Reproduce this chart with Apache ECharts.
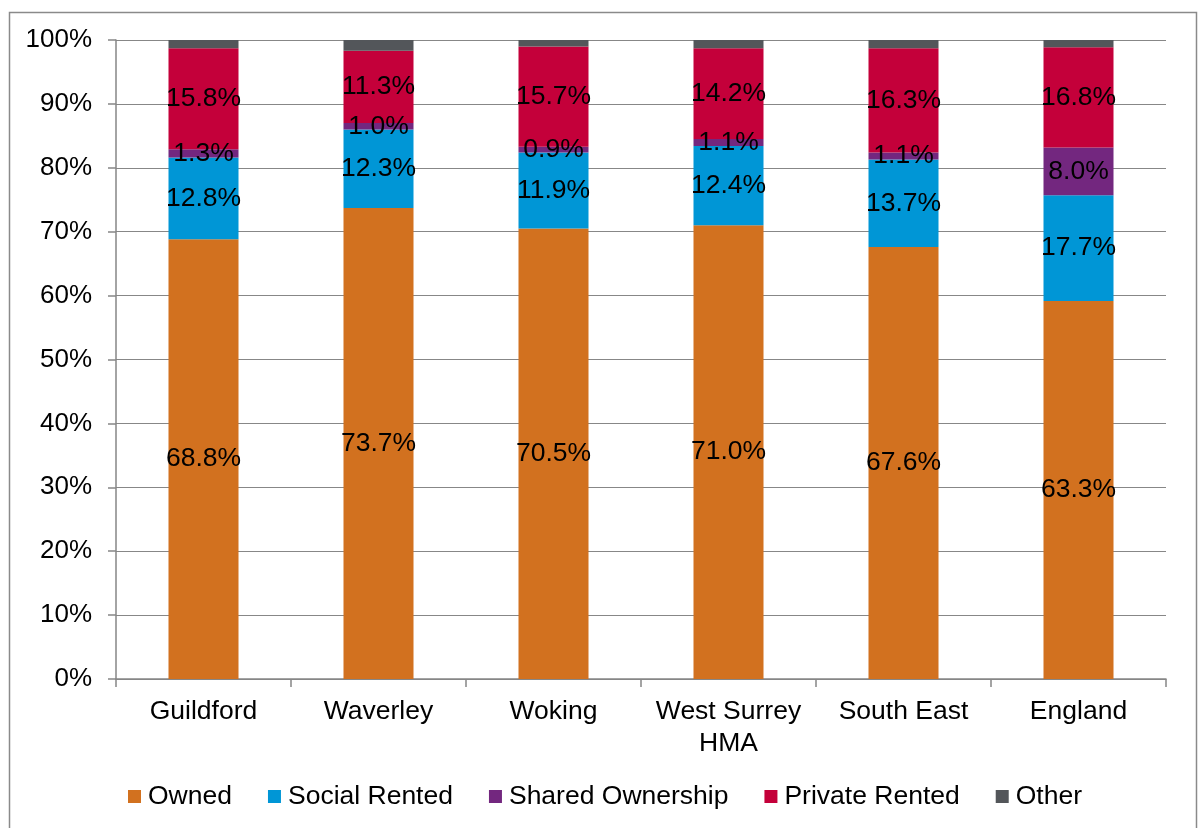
<!DOCTYPE html>
<html>
<head>
<meta charset="utf-8">
<script src="https://cdn.jsdelivr.net/npm/echarts@6/dist/echarts.min.js"></script>
<style>
  html, body { margin: 0; padding: 0; background: #fff; }
  #chart { width: 1199px; height: 828px; }
</style>
</head>
<body>
<div id="chart"></div>
<script>
// Housing tenure by area (percent of households)
const categories = ['Guildford', 'Waverley', 'Woking', 'West Surrey\nHMA', 'South East', 'England'];
const owned         = [68.8, 73.7, 70.5, 71.0, 67.6, 63.3];
const socialRented  = [12.8, 12.3, 11.9, 12.4, 13.7, 17.7];
const sharedOwner   = [1.3, 1.0, 0.9, 1.1, 1.1, 8.0];
const privateRented = [15.8, 11.3, 15.7, 14.2, 16.3, 16.8];
const other         = [1.3, 1.7, 1.0, 1.3, 1.3, 1.2];
const yTicks = [0, 10, 20, 30, 40, 50, 60, 70, 80, 90, 100];

const seriesDefs = [
  { name: 'Owned', data: owned, color: '#D2711F', label: true },
  { name: 'Social Rented', data: socialRented, color: '#0096D6', label: true },
  { name: 'Shared Ownership', data: sharedOwner, color: '#73277F', label: true },
  { name: 'Private Rented', data: privateRented, color: '#C4003A', label: true },
  { name: 'Other', data: other, color: '#53565A', label: false }
];

// 100% stacked: each column is scaled to its own total
const totals = categories.map((_, i) => seriesDefs.reduce((s, d) => s + d.data[i], 0));

const FONT = 'Liberation Sans, Arial, sans-serif';

const chart = echarts.init(document.getElementById('chart'));
chart.setOption({
  animation: false,
  textStyle: { fontFamily: FONT },
  graphic: [{
    type: 'rect',
    left: 7, top: 10,
    shape: { width: 1187, height: 840 },
    style: { fill: 'none', stroke: '#8a8a8a', lineWidth: 1.5 },
    silent: true, z: -1
  }],
  grid: { left: 116, right: 33, top: 40, bottom: 149 },
  legend: {
    left: 123, top: 778,
    icon: 'rect', itemWidth: 13, itemHeight: 13, itemGap: 36,
    textStyle: { fontSize: 26.5, color: '#000', fontFamily: FONT, padding: [0, 0, 0, 2] },
    data: seriesDefs.map(d => d.name)
  },
  xAxis: {
    type: 'category',
    data: categories,
    axisLine: { lineStyle: { color: '#868686', width: 1.5 } },
    axisTick: { show: true, interval: 0, length: 8, lineStyle: { color: '#868686', width: 1.5 } },
    axisLabel: { interval: 0, fontSize: 26.5, color: '#000', margin: 17, lineHeight: 32, fontFamily: FONT }
  },
  yAxis: {
    type: 'value',
    min: yTicks[0], max: yTicks[yTicks.length - 1], interval: 10,
    axisLine: { show: true, lineStyle: { color: '#868686', width: 1.5 } },
    axisTick: { show: true, length: 8, lineStyle: { color: '#868686', width: 1.5 } },
    splitLine: { lineStyle: { color: '#878787', width: 1.2 } },
    axisLabel: { fontSize: 26, color: '#000', margin: 24, formatter: '{value}%', fontFamily: FONT }
  },
  series: seriesDefs.map(d => ({
    name: d.name,
    type: 'bar',
    stack: 'tenure',
    barWidth: '40%',
    itemStyle: { color: d.color },
    data: d.data.map((v, i) => ({ value: v / totals[i] * 100, raw: v })),
    label: {
      show: d.label,
      position: 'inside',
      fontSize: 26.5,
      color: '#000',
      fontFamily: FONT,
      formatter: p => p.data.raw.toFixed(1) + '%'
    }
  }))
});
</script>
</body>
</html>
